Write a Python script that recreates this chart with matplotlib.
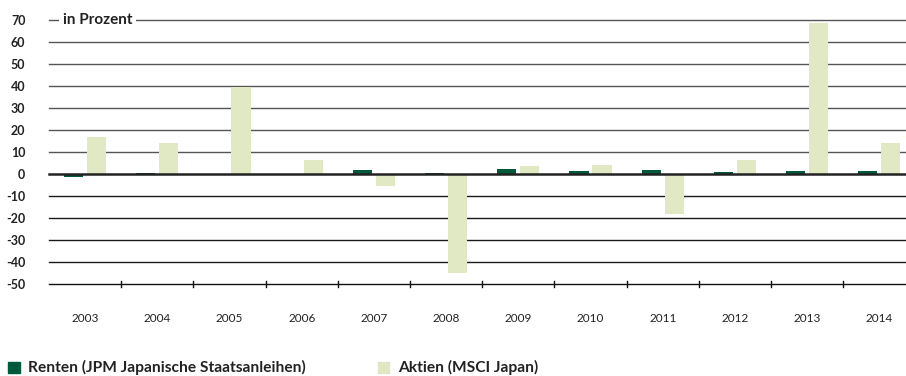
import numpy as np
import matplotlib.pyplot as plt
from matplotlib.patches import Rectangle

# ---- Data (annual returns, in percent)
years = ["2003", "2004", "2005", "2006", "2007", "2008",
         "2009", "2010", "2011", "2012", "2013", "2014"]
renten = [-1.5, 0.6, 0.2, -0.6, 1.9, 0.6, 2.4, 1.5, 2.0, 1.0, 1.5, 1.5]
aktien = [16.6, 13.9, 39.3, 6.5, -5.3, -44.8, 3.8, 4.2, -17.9, 6.5, 68.6, 14.2]
yticks = [70, 60, 50, 40, 30, 20, 10, 0, -10, -20, -30, -40, -50]

green = "#005a3a"
beige = "#e1e8c4"
font = "Lato"

# ---- Figure
W, H = 906, 376
fig = plt.figure(figsize=(W / 100, H / 100), dpi=100)
cat_w = 72.2
left_px, right_px = 49, 906
top_px, bot_px = 19.7, 284.3
ax = fig.add_axes([left_px / W, 1 - bot_px / H,
                   (right_px - left_px) / W, (bot_px - top_px) / H])

x = np.arange(len(years))
bw = 0.265
ax.bar(x - 0.16, renten, bw, color=green, zorder=3)
ax.bar(x + 0.16, aktien, bw, color=beige, zorder=2)

ax.set_xlim(-0.5, -0.5 + (right_px - left_px) / cat_w)
ax.set_ylim(-50, 70)

# gridlines
for v in yticks:
    if v == -50:
        continue
    col = "#555555" if v > 0 else "#1a1a1a"
    lw = 1.8 if v == 0 else 1.0
    ax.axhline(v, color=col if v != 0 else "#222222", lw=lw,
               zorder=4 if v == 0 else 1, clip_on=False)
ax.axhline(-50, color="#111111", lw=1.0, zorder=4, clip_on=False)

# small ticks at category boundaries on the bottom line
for b in np.arange(0.5, len(years), 1.0):
    ax.plot([b, b], [-51.4, -48.6], color="#111111", lw=1.0,
            clip_on=False, zorder=5)

for s in ax.spines.values():
    s.set_visible(False)
ax.tick_params(length=0)
ax.set_yticks(yticks)
ax.set_yticklabels([str(v) for v in yticks], fontfamily=font,
                   fontweight="bold", fontsize=9, color="#222222")
ax.tick_params(axis="y", pad=17)
ax.set_xticks(x)
ax.set_xticklabels(years, fontfamily=font, fontsize=8.5, color="#222222")
ax.tick_params(axis="x", pad=21)

# "in Prozent" label on top gridline
ax.text(-0.5 + (63 - left_px) / cat_w, 70, "in Prozent", fontfamily=font,
        fontweight="bold", fontsize=11, color="#222222", va="center",
        ha="left", zorder=6,
        bbox=dict(facecolor="white", edgecolor="none", pad=2.5))

# ---- Legend
def legend_item(x0, label, color):
    fig.add_artist(Rectangle((x0 / W, 1 - 373.3 / H), 11.7 / W, 11.6 / H,
                             transform=fig.transFigure, color=color))
    fig.text((x0 + 20) / W, 1 - 367.5 / H, label, fontfamily=font,
             fontweight="bold", fontsize=11.2, color="#222222", va="center")

legend_item(8.3, "Renten (JPM Japanische Staatsanleihen)", green)
legend_item(377.7, "Aktien (MSCI Japan)", beige)

fig.savefig("out.png", dpi=100)
